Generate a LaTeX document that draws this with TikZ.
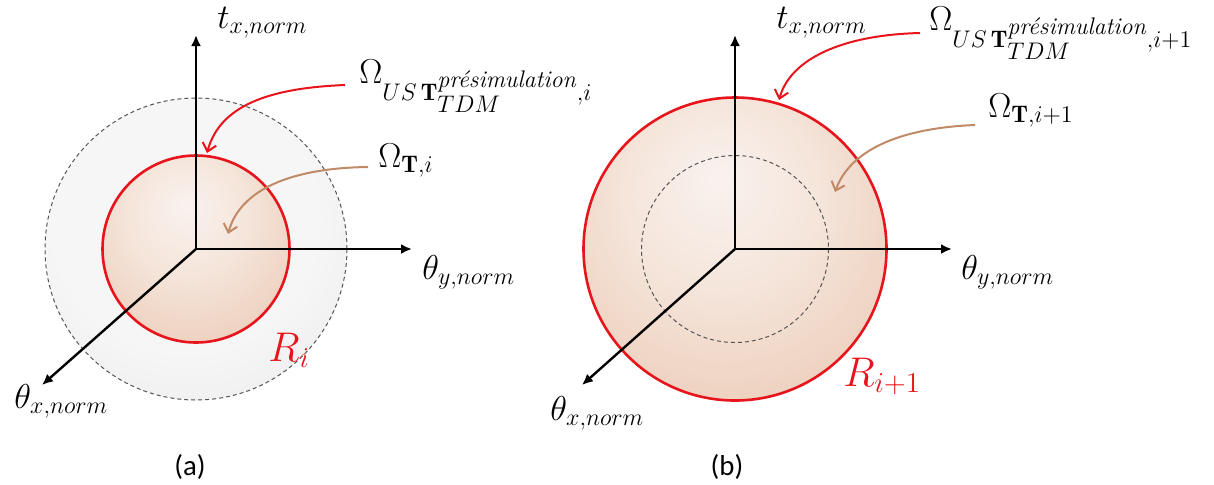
\documentclass[tikz,border=0pt]{standalone}
\usepackage{amsmath}
\usepackage{fontspec}
\newfontfamily\capfont{Carlito}
\usetikzlibrary{arrows.meta}
\definecolor{ink}{HTML}{000000}
\definecolor{rim}{HTML}{E8141C}
\definecolor{tan}{HTML}{C08A66}
\definecolor{sphin}{HTML}{F9F2EE}
\definecolor{sphlow}{HTML}{F5E6DC}
\definecolor{sphmid}{HTML}{EED1BF}
\definecolor{sphedge}{HTML}{DFAD8D}
\definecolor{sphout}{HTML}{CF8A60}
\definecolor{hazein}{HTML}{F6F6F6}
\definecolor{hazeout}{HTML}{DCDCDC}
\definecolor{dashgray}{HTML}{555555}
\pgfdeclareradialshading{sphereshade}{\pgfpoint{-3bp}{12bp}}{color(0bp)=(sphin);color(15bp)=(sphlow);color(32bp)=(sphmid);color(48bp)=(sphedge);color(63bp)=(sphout)}
\pgfdeclareradialshading{hazeshade}{\pgfpoint{-3bp}{8bp}}{color(0bp)=(hazein);color(22bp)=(hazein);color(58bp)=(hazeout)}
\tikzset{
  axis/.style={-{Latex[length=5.5pt,width=5pt]},line width=1.2pt,draw=ink},
  rimline/.style={draw=rim,line width=1.3pt},
  guide/.style={draw=dashgray,line width=0.5pt,dash pattern=on 2pt off 1.5pt},
  redarr/.style={-{Straight Barb[length=4pt,width=7pt]},line width=1pt,draw=rim},
  tanarr/.style={redarr,draw=tan},
  axlabel/.style={font=\LARGE,inner sep=0pt,anchor=base west},
  rlabel/.style={font=\fontsize{22}{26}\selectfont,text=rim,inner sep=0pt,anchor=base west},
  caption/.style={font=\capfont\Large},
}
\newcommand{\presim}{\text{\itshape présimulation}}

\begin{document}
\begin{tikzpicture}[x=0.5pt,y=-0.5pt]
  \useasboundingbox (0,0) rectangle (1214,484);
  % (a)
  \coordinate (oa) at (196,249);
  \coordinate (tA) at (196,35);
  \coordinate (yA) at (412,249);
  \coordinate (xA) at (42,385);
  \coordinate (hitA) at (207,153);
  \coordinate (inA) at (228,234);
  \shade[shading=hazeshade] (oa) circle[radius=151];
  \draw[guide] (oa) circle[radius=151];
  \shade[shading=sphereshade] (oa) circle[radius=93.5];
  \draw[rimline] (oa) circle[radius=93.5];
  \draw[axis] (oa) -- (tA);
  \draw[axis] (oa) -- (yA);
  \draw[axis] (oa) -- (xA);
  \node[axlabel] (tlabA) at (217,28) {$t_{x,norm}$};
  \node[axlabel] (ylabA) at (422,279) {$\theta_{y,norm}$};
  \node[axlabel] (xlabA) at (14,408) {$\theta_{x,norm}$};
  \node[rlabel] (rlabA) at (268,361) {$R_i$};
  \node[axlabel] (omUSa) at (359,83) {$\Omega_{US\,\mathbf{T}^{\scriptstyle\presim}_{\scriptstyle TDM},i}$};
  \node[axlabel] (omTa) at (378,167) {$\Omega_{\mathbf{T},i}$};
  \draw[redarr] ([shift={(-14,2)}]omUSa.base west) .. controls (270,88) and (220,105) .. (hitA);
  \draw[tanarr] ([shift={(-10,0)}]omTa.base west) .. controls (290,168) and (240,190) .. (inA);
  \node[caption] (capA) at (190,467) {(a)};

  % (b)
  \coordinate (ob) at (735,249);
  \coordinate (tB) at (735,35);
  \coordinate (yB) at (952,249);
  \coordinate (xB) at (582,385);
  \coordinate (hitB) at (779,100);
  \coordinate (inB) at (835,192);
  \shade[shading=sphereshade] (ob) circle[radius=151.5];
  \draw[rimline] (ob) circle[radius=151.5];
  \draw[guide] (ob) circle[radius=93.5];
  \draw[axis] (ob) -- (tB);
  \draw[axis] (ob) -- (yB);
  \draw[axis] (ob) -- (xB);
  \node[axlabel] (tlabB) at (776,28) {$t_{x,norm}$};
  \node[axlabel] (ylabB) at (961,279) {$\theta_{y,norm}$};
  \node[axlabel] (xlabB) at (550,420) {$\theta_{x,norm}$};
  \node[rlabel] (rlabB) at (843,386) {$R_{i+1}$};
  \node[axlabel] (omUSb) at (929,30) {$\Omega_{US\,\mathbf{T}^{\scriptstyle\presim}_{\scriptstyle TDM},i+1}$};
  \node[axlabel] (omTb) at (988,117) {$\Omega_{\mathbf{T},i+1}$};
  \draw[redarr] ([shift={(-9,3)}]omUSb.base west) .. controls (840,35) and (790,60) .. (hitB);
  \draw[tanarr] ([shift={(-13,8)}]omTb.base west) .. controls (900,128) and (850,150) .. (inB);
  \node[caption] (capB) at (727,467) {(b)};
\end{tikzpicture}
\end{document}
